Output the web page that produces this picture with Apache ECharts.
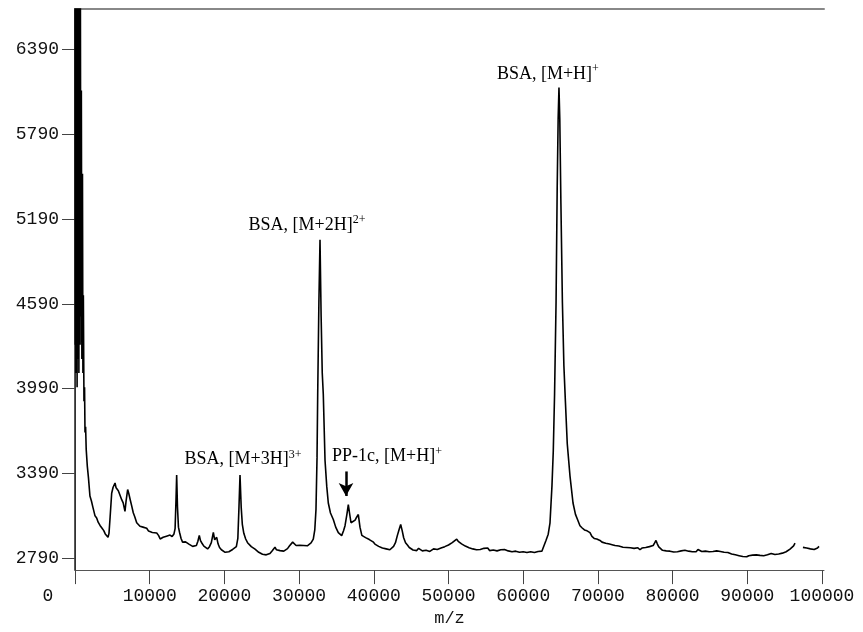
<!DOCTYPE html>
<html>
<head>
<meta charset="utf-8">
<script src="https://cdn.jsdelivr.net/npm/echarts@6/dist/echarts.min.js"></script>
<style>html,body{margin:0;padding:0;background:#fff;}#c{width:863px;height:632px;}</style>
</head>
<body>
<div id="c"></div>
<script>
// Tick labels
const xTicks = [0, 10000, 20000, 30000, 40000, 50000, 60000, 70000, 80000, 90000, 100000];
const yTicks = [2790, 3390, 3990, 4590, 5190, 5790, 6390];
const xName = 'm/z';

// Spectrum: [m/z, intensity] pairs
const segLow = [
  [0, 7200], [40, 4300], [80, 7200], [120, 4100], [160, 7200], [200, 4500], [240, 7200], [280, 4000],
  [320, 7200], [360, 4200], [400, 7200], [440, 4400], [480, 7200], [520, 4100], [560, 7200], [600, 4600],
  [640, 7200], [680, 4300], [720, 6900], [780, 4500], [850, 6100], [920, 4200], [1000, 5510], [1060, 4100],
  [1120, 4650], [1200, 3900], [1280, 4000], [1340, 3680], [1420, 3720], [1500, 3560], [1650, 3440],
  [1800, 3360], [2000, 3230], [2200, 3195], [2400, 3150], [2680, 3090], [2900, 3075], [3100, 3045],
  [3350, 3022], [3600, 3004], [3850, 2985], [4050, 2962], [4240, 2952], [4420, 2938], [4550, 2966],
  [4700, 3080], [4910, 3250], [5100, 3292], [5360, 3322], [5500, 3288], [5650, 3302], [5800, 3268],
  [6000, 3254], [6250, 3204], [6450, 3182], [6690, 3122], [6850, 3200], [7050, 3276], [7200, 3248],
  [7400, 3202], [7590, 3160], [7800, 3112], [8000, 3084], [8260, 3041], [8500, 3034], [8700, 3016],
  [8900, 3024], [9100, 3010], [9350, 2996], [9600, 3002], [9850, 2982], [10100, 2990], [10350, 2972],
  [10600, 2980], [10940, 2968], [11200, 2950], [11400, 2926], [11600, 2916], [11800, 2938], [12000, 2932],
  [12250, 2946], [12500, 2938], [12720, 2954], [13000, 2944], [13250, 2962], [13400, 3000], [13520, 3200],
  [13610, 3378], [13720, 3150], [13850, 3010], [14000, 2972], [14200, 2930], [14400, 2904], [14600, 2914],
  [14800, 2906], [15000, 2898], [15250, 2890], [15500, 2880], [15750, 2874], [16000, 2868], [16250, 2880],
  [16450, 2910], [16640, 2952], [16800, 2915], [17000, 2896], [17250, 2876], [17500, 2864], [17750, 2856],
  [18000, 2872], [18250, 2900], [18520, 2972], [18700, 2920], [18850, 2930], [18970, 2938], [19150, 2892],
  [19350, 2866], [19600, 2850], [19850, 2838], [20100, 2832], [20350, 2840], [20600, 2836], [20850, 2848],
  [21100, 2852], [21350, 2860], [21600, 2872], [21800, 2930], [21950, 3150], [22090, 3378], [22250, 3150],
  [22400, 3030], [22600, 2966], [22850, 2926], [23100, 2900], [23350, 2886], [23600, 2872], [23850, 2862],
  [24100, 2854], [24350, 2840], [24600, 2832], [24850, 2820], [25100, 2818], [25350, 2810], [25600, 2814],
  [25850, 2818], [26100, 2824], [26350, 2840], [26550, 2850], [26770, 2868], [26950, 2850], [27200, 2838],
  [27450, 2844], [27700, 2832], [27950, 2840], [28200, 2850], [28450, 2858], [28700, 2876], [28950, 2890],
  [29140, 2904], [29350, 2892], [29600, 2880], [29850, 2870], [30100, 2882], [30350, 2874], [30600, 2880],
  [30850, 2868], [31100, 2878], [31350, 2884], [31600, 2898]
];
const segMid = [
  [31900, 2925], [32100, 2990], [32260, 3134], [32400, 3500], [32490, 3948], [32650, 4600], [32800, 5044],
  [32950, 4500], [33100, 4100], [33240, 3948], [33470, 3483], [33700, 3300], [33910, 3181], [34200, 3110],
  [34580, 3064], [34900, 3010], [35250, 2971], [35500, 2960], [35700, 2950], [35950, 2985], [36150, 3020],
  [36400, 3100], [36590, 3169], [36750, 3110], [36950, 3041], [37200, 3035], [37500, 3060], [37700, 3080],
  [37930, 3099], [38150, 3010], [38400, 2952], [38650, 2944], [38900, 2936], [39150, 2930], [39400, 2922],
  [39650, 2914], [39900, 2906], [40150, 2890], [40400, 2886], [40650, 2874], [40900, 2870], [41150, 2862],
  [41400, 2866], [41650, 2856], [41900, 2858], [42150, 2850], [42400, 2862], [42650, 2874], [42900, 2900],
  [43150, 2950], [43400, 2995], [43600, 3029], [43800, 2985], [44000, 2935], [44250, 2900], [44500, 2884],
  [44750, 2866], [45000, 2858], [45250, 2848], [45500, 2856], [45750, 2844], [46000, 2860], [46250, 2850],
  [46500, 2842], [46750, 2854], [47000, 2846], [47250, 2858], [47500, 2838], [47750, 2850], [48000, 2856],
  [48250, 2844], [48500, 2852], [48750, 2846], [49000, 2862], [49250, 2858], [49500, 2872], [49750, 2866],
  [50000, 2884], [50250, 2880], [50500, 2900], [50750, 2896], [51100, 2925], [51300, 2910], [51500, 2906],
  [51750, 2892], [52000, 2896], [52250, 2876], [52500, 2880], [52750, 2864], [53000, 2870], [53250, 2856],
  [53500, 2862], [53750, 2850], [54000, 2864], [54250, 2852], [54500, 2846], [54750, 2860], [55000, 2852],
  [55250, 2862], [55500, 2844], [55750, 2856], [56000, 2848], [56250, 2860], [56500, 2842], [56750, 2856],
  [57000, 2850], [57250, 2864], [57500, 2852], [57750, 2858], [58000, 2842], [58250, 2850], [58500, 2836],
  [58750, 2846], [59000, 2840], [59250, 2848], [59500, 2832], [59750, 2844], [60000, 2836], [60250, 2846],
  [60500, 2830], [60750, 2842], [61000, 2836], [61250, 2846], [61500, 2830], [61750, 2844], [62000, 2838],
  [62250, 2848], [62500, 2840], [62750, 2852], [63050, 2916], [63350, 2960], [63590, 3041], [63850, 3300],
  [64030, 3550], [64200, 3948], [64400, 4600], [64550, 5400], [64680, 5900], [64790, 6120], [64900, 5900],
  [65050, 5300], [65250, 4600], [65450, 4150], [65650, 3900], [65900, 3600], [66270, 3369], [66670, 3181],
  [67000, 3100], [67300, 3060], [67600, 3020], [67900, 3004], [68200, 2990], [68550, 2984], [68940, 2971],
  [69200, 2944], [69500, 2930], [69850, 2926], [70280, 2916]
];
const segHigh = [
  [70550, 2904], [70800, 2910], [71050, 2896], [71300, 2900], [71550, 2890], [71800, 2894], [72020, 2884],
  [72300, 2880], [72550, 2870], [72800, 2876], [73050, 2862], [73360, 2868], [73600, 2858], [73850, 2866],
  [74100, 2854], [74350, 2864], [74600, 2850], [74850, 2860], [75100, 2852], [75350, 2864], [75630, 2850],
  [75900, 2862], [76150, 2856], [76400, 2866], [76650, 2858], [76900, 2872], [77150, 2868], [77400, 2880],
  [77600, 2898], [77780, 2916], [77950, 2892], [78150, 2870], [78400, 2856], [78650, 2846], [78900, 2852],
  [79150, 2842], [79400, 2850], [79650, 2840], [79900, 2846], [80150, 2834], [80400, 2846], [80650, 2836],
  [80900, 2830], [81150, 2842], [81400, 2834], [81650, 2846], [81900, 2832], [82150, 2840], [82400, 2848],
  [82650, 2836], [82900, 2844], [83150, 2836], [83400, 2852], [83650, 2842], [83900, 2838], [84150, 2830],
  [84400, 2840], [84650, 2826], [84900, 2836], [85150, 2830], [85400, 2838], [85650, 2826], [85900, 2842],
  [86150, 2848], [86400, 2838], [86650, 2846], [86900, 2832], [87150, 2840], [87400, 2830], [87650, 2834],
  [87900, 2820], [88150, 2826], [88400, 2814], [88650, 2818], [88900, 2808], [89150, 2814], [89400, 2802],
  [89650, 2808], [89920, 2800], [90200, 2808], [90450, 2804], [90700, 2812], [90950, 2806], [91200, 2814],
  [91450, 2804], [91700, 2810], [91950, 2800], [92200, 2808], [92450, 2804], [92700, 2814], [92950, 2808],
  [93200, 2824], [93450, 2810], [93700, 2816], [93950, 2808], [94200, 2820], [94450, 2814], [94700, 2826],
  [94950, 2822], [95200, 2836], [95450, 2842], [95720, 2855], [95950, 2860], [96200, 2878], [96390, 2897],
  [96700, null],
  [97450, 2867], [97700, 2858], [97950, 2862], [98200, 2850], [98450, 2856], [98700, 2842], [98950, 2852],
  [99200, 2848], [99400, 2862], [99600, 2874]
];

// Annotations
const annoText = ['BSA, [M+H]', 'BSA, [M+2H]', 'BSA, [M+3H]', 'PP-1c, [M+H]'];
const annoSup = ['+', '2+', '3+', '+'];
const annoPos = [[63300, 6216], [31060, 5148], [22490, 3488], [41770, 3509]];
const arrowFrom = [36280, 3404];
const arrowTo = [36280, 3230];

const spectrum = segLow.concat(segMid, segHigh);

const axisFont = 'Liberation Mono';
const chart = echarts.init(document.getElementById('c'), null, {renderer: 'canvas'});

chart.setOption({
  animation: false,
  backgroundColor: '#ffffff',
  grid: {left: 75, right: 39, top: 9, bottom: 54, containLabel: false},
  xAxis: [{
    type: 'value', min: 0, max: 100270, position: 'bottom',
    name: xName, nameLocation: 'middle', nameGap: 33,
    nameTextStyle: {fontFamily: axisFont, fontSize: 17, color: '#111'},
    axisLine: {show: true, lineStyle: {color: '#555', width: 1}},
    axisTick: {show: true, inside: false, length: 14, customValues: xTicks, lineStyle: {color: '#444', width: 1}},
    axisLabel: {
      show: true, margin: 17, customValues: xTicks, fontFamily: axisFont, fontSize: 18, color: '#111',
      formatter: function (v) { return v === 0 ? '{z|0}' : String(v); },
      rich: {z: {fontFamily: axisFont, fontSize: 18, color: '#111', padding: [0, 54, 0, 0]}}
    },
    splitLine: {show: false}
  }, {
    type: 'value', min: 0, max: 100270, position: 'top',
    axisLine: {show: true, lineStyle: {color: '#888', width: 2}},
    axisTick: {show: false}, axisLabel: {show: false}, splitLine: {show: false}
  }],
  yAxis: [{
    type: 'value', min: 2706, max: 6676, position: 'left',
    axisLine: {show: true, lineStyle: {color: '#666', width: 1}},
    axisTick: {show: true, inside: false, length: 13, customValues: yTicks, lineStyle: {color: '#444', width: 1}},
    axisLabel: {
      show: true, margin: 16, customValues: yTicks, fontFamily: axisFont, fontSize: 18, color: '#111',
      formatter: function (v) { return String(v); }
    },
    splitLine: {show: false}
  }, {
    type: 'value', min: 2706, max: 6676, position: 'right',
    axisLine: {show: true, lineStyle: {color: '#222', width: 1.5}},
    axisTick: {show: false}, axisLabel: {show: false}, splitLine: {show: false}
  }],
  series: [{
    type: 'line',
    xAxisIndex: 0, yAxisIndex: 0,
    data: spectrum,
    showSymbol: false,
    symbol: 'none',
    connectNulls: false,
    clip: true,
    lineStyle: {color: '#000', width: 1.6},
    z: 3,
    markPoint: {
      symbol: 'circle', symbolSize: 0,
      silent: true,
      label: {show: true, position: 'inside', color: '#000'},
      data: annoText.map(function (t, i) {
        return {
          coord: annoPos[i],
          label: {
            formatter: '{a|' + t + '}{b|' + annoSup[i] + '}',
            rich: {
              a: {fontFamily: 'Liberation Serif', fontSize: 18, lineHeight: 22, color: '#000'},
              b: {fontFamily: 'Liberation Serif', fontSize: 12, lineHeight: 22, verticalAlign: 'top', padding: [0, 0, 10, 0], color: '#000'}
            }
          }
        };
      })
    },
    markLine: {
      silent: true,
      symbol: ['none', 'arrow'],
      symbolSize: [11, 13],
      label: {show: false},
      lineStyle: {color: '#000', width: 2.5, type: 'solid'},
      data: [[{coord: arrowFrom}, {coord: arrowTo}]]
    }
  }]
});
</script>
</body>
</html>
